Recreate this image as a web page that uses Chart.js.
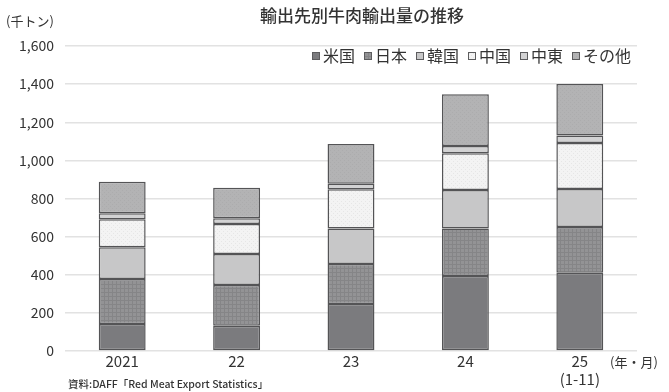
<!DOCTYPE html>
<html>
<head>
<meta charset="utf-8">
<script src="https://cdn.jsdelivr.net/npm/chart.js@4"></script>
<style>
  html, body { margin: 0; padding: 0; background: #fff; }
  #wrap { width: 669px; height: 392px; position: relative; }
</style>
</head>
<body>
<div id="wrap"><canvas id="c"></canvas></div>
<script>
// data (千トン)
const years = ['2021', '22', '23', '24', ['25', '(1-11)']];
const seriesNames = ['米国', '日本', '韓国', '中国', '中東', 'その他'];
const usa = [142, 133, 246, 393, 411];
const japan = [236, 213, 210, 249, 239];
const korea = [166, 163, 186, 203, 200];
const china = [147, 157, 206, 192, 241];
const middleEast = [31, 30, 30, 38, 39];
const others = [166, 161, 208, 272, 271];
const yTicks = [0, 200, 400, 600, 800, 1000, 1200, 1400, 1600];

const FONT = '"Noto Sans CJK JP", "Noto Sans", sans-serif';

// small texture fills
function makePattern(base, draw) {
    const c = document.createElement('canvas');
    c.width = 4; c.height = 4;
    const g = c.getContext('2d');
    g.fillStyle = base;
    g.fillRect(0, 0, 4, 4);
    if (draw) draw(g);
    return g.createPattern(c, 'repeat');
}
const fillUsa = '#7b7b7e';
const fillJapan = makePattern('#939395', g => {
    g.fillStyle = '#858587';
    g.fillRect(0, 0, 4, 1);
    g.fillRect(0, 0, 1, 4);
});
const fillKorea = '#c7c7c8';
const fillChina = makePattern('#f3f3f3', g => {
    g.fillStyle = '#e6e6e6';
    g.fillRect(1, 1, 1, 1);
    g.fillRect(3, 3, 1, 1);
});
const fillME = '#d2d2d3';
const fillOther = makePattern('#b3b3b4', g => {
    g.fillStyle = '#acacad';
    g.fillRect(0, 0, 1, 1);
    g.fillRect(2, 2, 1, 1);
});

const seriesData = [usa, japan, korea, china, middleEast, others];
const seriesFill = [fillUsa, fillJapan, fillKorea, fillChina, fillME, fillOther];

const datasets = seriesNames.map((name, i) => ({
    label: name,
    data: seriesData[i],
    backgroundColor: seriesFill[i],
    borderColor: '#545456',
    borderWidth: 1.5,
    borderSkipped: false,
    inflateAmount: 0,
    barPercentage: 0.82,
    categoryPercentage: 0.5
}));

// title, unit labels, source and legend
const extraText = {
    id: 'extraText',
    afterDraw(chart) {
        const ctx = chart.ctx;
        ctx.save();
        ctx.fillStyle = '#333';
        ctx.textBaseline = 'middle';

        ctx.font = '500 17px ' + FONT;
        ctx.textAlign = 'center';
        ctx.fillText('輸出先別牛肉輸出量の推移', 362, 16);

        ctx.font = '13px ' + FONT;
        ctx.textAlign = 'left';
        ctx.fillText('(千トン)', 6, 21);
        ctx.fillText('(年・月)', 610, 362);

        ctx.font = '500 10.5px ' + FONT;
        ctx.fillText('資料:DAFF「Red Meat Export Statistics」', 68, 384);

        // legend
        ctx.font = '16px ' + FONT;
        let x = 312;
        const y = 56;
        chart.data.datasets.forEach(ds => {
            ctx.fillStyle = ds.backgroundColor;
            ctx.fillRect(x, y - 4, 8, 8);
            ctx.strokeStyle = '#5c5c5e';
            ctx.lineWidth = 1;
            ctx.strokeRect(x + 0.5, y - 3.5, 7, 7);
            ctx.fillStyle = '#333';
            ctx.fillText(ds.label, x + 11, y);
            x += 11 + ctx.measureText(ds.label).width + 9;
        });
        ctx.restore();
    }
};

new Chart(document.getElementById('c'), {
    type: 'bar',
    data: { labels: years, datasets: datasets },
    options: {
        responsive: true,
        maintainAspectRatio: false,
        animation: false,
        layout: { padding: { top: 46, right: 32, left: 0, bottom: 0 } },
        plugins: {
            legend: { display: false },
            tooltip: { enabled: false }
        },
        scales: {
            x: {
                stacked: true,
                grid: { display: false, drawTicks: false },
                border: { display: false },
                ticks: {
                    color: '#333',
                    font: { size: 15, family: FONT },
                    padding: 1,
                    maxRotation: 0
                },
                afterFit(scale) { scale.height = 41; }
            },
            y: {
                stacked: true,
                min: 0,
                max: 1600,
                afterBuildTicks(scale) { scale.ticks = yTicks.map(v => ({ value: v })); },
                grid: { color: '#e2e2e2', lineWidth: 1.5, drawTicks: false },
                border: { display: false },
                ticks: {
                    color: '#333',
                    font: { size: 14, family: FONT },
                    padding: 11,
                    callback: v => v.toLocaleString('en-US')
                },
                afterFit(scale) { scale.width = 65; }
            }
        }
    },
    plugins: [extraText]
});
</script>
</body>
</html>
